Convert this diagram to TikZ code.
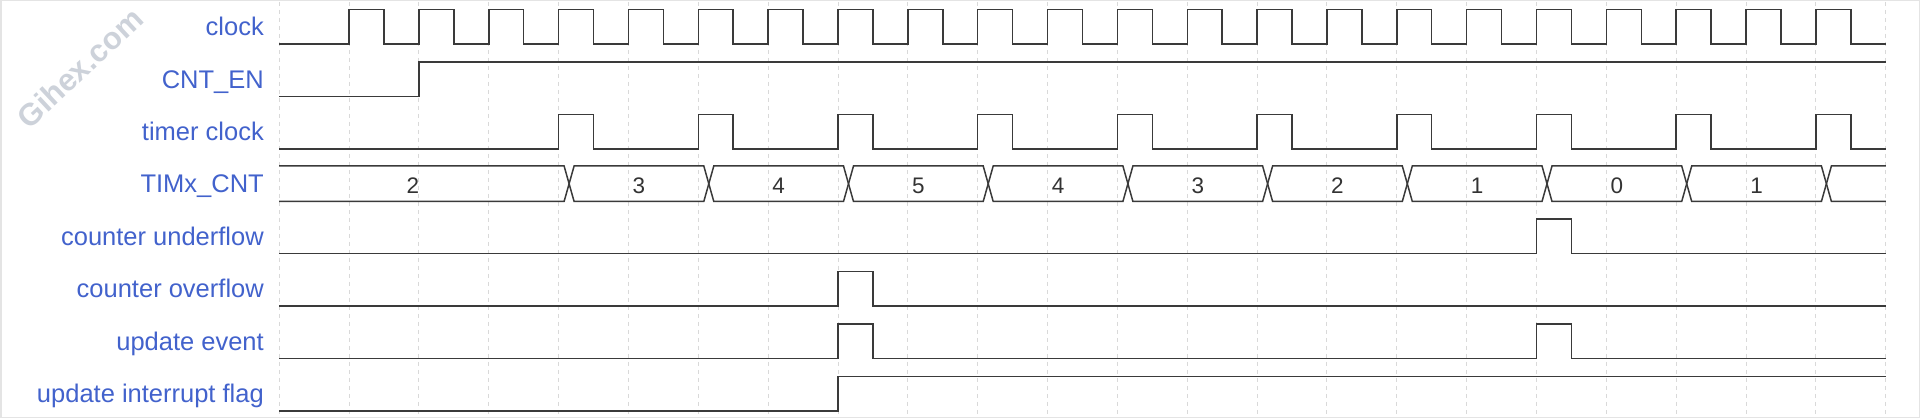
\documentclass[tikz,border=0pt]{standalone}
\usepackage{fontspec}
\setmainfont{Liberation Sans}
\definecolor{lblue}{HTML}{4262CC}
\definecolor{sigc}{HTML}{3A3A3A}
\definecolor{gridc}{HTML}{D9D9D9}
\definecolor{framec}{HTML}{E4E4E4}
\definecolor{wmark}{HTML}{CDD2DA}
\definecolor{valc}{HTML}{333333}
\newcommand\sx[1]{279.2+(#1)*69.85}
\newcommand\slo[1]{44+(#1)*52.4}
\newcommand\shi[1]{9.6+(#1)*52.4}
\begin{document}
\begin{tikzpicture}[x=1pt,y=-1pt,
  lab/.style={anchor=base east, text=lblue, font=\fontsize{25.5}{30}\selectfont, inner sep=0pt},
  val/.style={anchor=base, text=valc, font=\fontsize{22.5}{26}\selectfont, inner sep=0pt},
  sig/.style={draw=sigc, line width=1.5pt, line join=miter},
  gridline/.style={draw=gridc, line width=1pt, dash pattern=on 4pt off 4pt}]
\useasboundingbox (0,0) rectangle (1920,419);
\draw[framec, line width=1.5pt] (0.75,0.75) rectangle (1919.25,417.5);
% grid
\foreach \k in {0,...,23} \draw[gridline] ({\sx{\k}},2) -- ({\sx{\k}},416);
% watermark
\node[rotate=43, text=wmark, font=\fontsize{31}{34}\selectfont\bfseries, inner sep=0pt] (wm) at (80,68) {Gihex.com};
% labels
\node[lab] (l0) at (264,{\slo{0}-8.3}) {clock};
\node[lab] (l1) at (264,{\slo{1}-8.3}) {CNT\_EN};
\node[lab] (l2) at (264,{\slo{2}-8.3}) {timer clock};
\node[lab] (l3) at (264,{\slo{3}-8.3}) {TIMx\_CNT};
\node[lab] (l4) at (264,{\slo{4}-8.3}) {counter underflow};
\node[lab] (l5) at (264,{\slo{5}-8.3}) {counter overflow};
\node[lab] (l6) at (264,{\slo{6}-8.3}) {update event};
\node[lab] (l7) at (264,{\slo{7}-8.3}) {update interrupt flag};
% clock
\draw[sig] ({\sx{0}},{\slo{0}}) foreach \k in {1,...,22} {
  -- ({\sx{\k}},{\slo{0}}) -- ({\sx{\k}},{\shi{0}}) -- ({\sx{\k+0.5}},{\shi{0}}) -- ({\sx{\k+0.5}},{\slo{0}}) }
  -- ({\sx{23}},{\slo{0}});
% CNT_EN
\draw[sig] ({\sx{0}},{\slo{1}}) -- ({\sx{2}},{\slo{1}}) -- ({\sx{2}},{\shi{1}}) -- ({\sx{23}},{\shi{1}});
% timer clock
\draw[sig] ({\sx{0}},{\slo{2}}) foreach \k in {4,6,...,22} {
  -- ({\sx{\k}},{\slo{2}}) -- ({\sx{\k}},{\shi{2}}) -- ({\sx{\k+0.5}},{\shi{2}}) -- ({\sx{\k+0.5}},{\slo{2}}) }
  -- ({\sx{23}},{\slo{2}});
% TIMx_CNT bus
\def\bT{166}\def\bB{201.5}\def\bM{183.75}
\draw[sig] ({\sx{0}},\bT) -- ({\sx{4}+5.5},\bT) -- ({\sx{4}+10.5},\bM) -- ({\sx{4}+5.5},\bB) -- ({\sx{0}},\bB);
\node[val] (v0) at (413,193.8) {2};
\foreach \a/\b/\v in {4/6/3,6/8/4,8/10/5,10/12/4,12/14/3,14/16/2,16/18/1,18/20/0,20/22/1} {
  \draw[sig] ({\sx{\a}+10.5},\bM) -- ({\sx{\a}+15.5},\bT) -- ({\sx{\b}+5.5},\bT) -- ({\sx{\b}+10.5},\bM)
    -- ({\sx{\b}+5.5},\bB) -- ({\sx{\a}+15.5},\bB) -- cycle;
  \node[val] (v\a) at ({\sx{(\a+\b)/2}+10.5},193.8) {\v};
}
\draw[sig] ({\sx{23}},\bT) -- ({\sx{22}+15.5},\bT) -- ({\sx{22}+10.5},\bM) -- ({\sx{22}+15.5},\bB) -- ({\sx{23}},\bB);
% counter underflow
\draw[sig] ({\sx{0}},{\slo{4}}) -- ({\sx{18}},{\slo{4}}) -- ({\sx{18}},{\shi{4}}) -- ({\sx{18.5}},{\shi{4}}) -- ({\sx{18.5}},{\slo{4}}) -- ({\sx{23}},{\slo{4}});
% counter overflow
\draw[sig] ({\sx{0}},{\slo{5}}) -- ({\sx{8}},{\slo{5}}) -- ({\sx{8}},{\shi{5}}) -- ({\sx{8.5}},{\shi{5}}) -- ({\sx{8.5}},{\slo{5}}) -- ({\sx{23}},{\slo{5}});
% update event
\draw[sig] ({\sx{0}},{\slo{6}}) -- ({\sx{8}},{\slo{6}}) -- ({\sx{8}},{\shi{6}}) -- ({\sx{8.5}},{\shi{6}}) -- ({\sx{8.5}},{\slo{6}})
  -- ({\sx{18}},{\slo{6}}) -- ({\sx{18}},{\shi{6}}) -- ({\sx{18.5}},{\shi{6}}) -- ({\sx{18.5}},{\slo{6}}) -- ({\sx{23}},{\slo{6}});
% update interrupt flag
\draw[sig] ({\sx{0}},{\slo{7}}) -- ({\sx{8}},{\slo{7}}) -- ({\sx{8}},{\shi{7}}) -- ({\sx{23}},{\shi{7}});
\end{tikzpicture}
\end{document}
